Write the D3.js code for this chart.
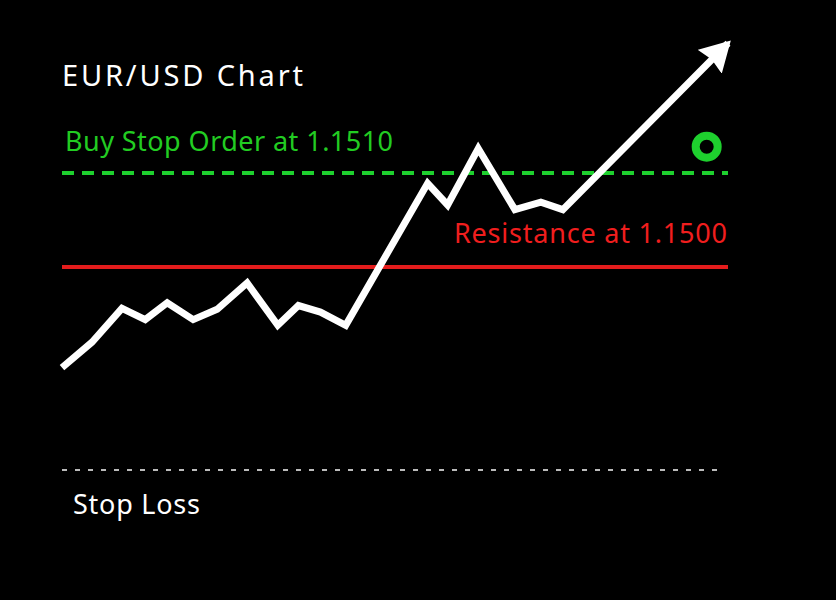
<!DOCTYPE html>
<html>
<head>
<meta charset="utf-8">
<script src="https://cdn.jsdelivr.net/npm/d3@7"></script>
<style>
  html, body { margin: 0; padding: 0; background: #000; }
  svg { display: block; }
  text { font-family: "Noto Sans", "Open Sans", sans-serif; }
</style>
</head>
<body>
<div id="chart"></div>
<script>
// time (hours into session) and EUR/USD price
var hours  = [0, 4.5, 9, 12.5, 15.8, 19.7, 23.3, 27.8, 32.4, 35.5, 38.8, 42.6, 54.9, 57.9, 62.5, 68, 71.9, 75.2, 100];
var prices = [1.14893, 1.14920, 1.14956, 1.14944, 1.14962, 1.14944, 1.14955, 1.14983, 1.14938, 1.14959,
              1.14952, 1.14938, 1.15089, 1.15066, 1.15126, 1.15061, 1.15069, 1.15061, 1.15238];

var levelNames  = ["buyStop", "resistance", "stopLoss"];
var levelValues = [1.1510, 1.1500, 1.14784];
var levelLabels = ["Buy Stop Order at 1.1510", "Resistance at 1.1500", "Stop Loss"];

var entryHour = 96.8, entryPrice = 1.15128;   // green marker

var width = 836, height = 600;

var x = d3.scaleLinear().domain([0, 100]).range([62, 728]);
var y = d3.scaleLinear().domain([1.15, 1.151]).range([267, 173]);

var svg = d3.select("#chart").append("svg")
    .attr("width", width)
    .attr("height", height);

svg.append("rect").attr("width", width).attr("height", height).attr("fill", "#000");

// arrow head
svg.append("defs").append("marker")
    .attr("id", "arrow")
    .attr("viewBox", "0 0 30 34")
    .attr("refX", 26).attr("refY", 17)
    .attr("markerUnits", "userSpaceOnUse")
    .attr("markerWidth", 30).attr("markerHeight", 34)
    .attr("orient", "auto")
  .append("path")
    .attr("d", "M0,0 L30,17 L0,34 L3,17 Z")
    .attr("fill", "#fff");

// title
svg.append("text")
    .attr("x", 62).attr("y", 86)
    .attr("fill", "#fff")
    .attr("font-size", 29)
    .attr("textLength", 241).attr("lengthAdjust", "spacing")
    .text("EUR/USD Chart");

// buy stop level
svg.append("line")
    .attr("x1", x(0)).attr("x2", x(100))
    .attr("y1", y(levelValues[0])).attr("y2", y(levelValues[0]))
    .attr("stroke", "#1ed02e").attr("stroke-width", 4)
    .attr("stroke-dasharray", "12,8");
svg.append("text")
    .attr("x", 65).attr("y", 151)
    .attr("fill", "#22cc22")
    .attr("font-size", 27)
    .attr("textLength", 328).attr("lengthAdjust", "spacing")
    .text(levelLabels[0]);

// resistance level
svg.append("line")
    .attr("x1", x(0)).attr("x2", x(100))
    .attr("y1", y(levelValues[1])).attr("y2", y(levelValues[1]))
    .attr("stroke", "#e41c1c").attr("stroke-width", 4);
svg.append("text")
    .attr("x", 454).attr("y", 243)
    .attr("fill", "#f01e1e")
    .attr("font-size", 27)
    .attr("textLength", 273).attr("lengthAdjust", "spacing")
    .text(levelLabels[1]);

// stop loss level
svg.append("line")
    .attr("x1", x(0)).attr("x2", x(99))
    .attr("y1", y(levelValues[2])).attr("y2", y(levelValues[2]))
    .attr("stroke", "#bbbbbb").attr("stroke-width", 2)
    .attr("stroke-dasharray", "5,8");
svg.append("text")
    .attr("x", 73).attr("y", 514)
    .attr("fill", "#fff")
    .attr("font-size", 27)
    .attr("textLength", 127).attr("lengthAdjust", "spacing")
    .text(levelLabels[2]);

// price line
var line = d3.line()
    .x(function(d, i) { return x(hours[i]); })
    .y(function(d) { return y(d); });

svg.append("path")
    .datum(prices)
    .attr("d", line)
    .attr("fill", "none")
    .attr("stroke", "#fff")
    .attr("stroke-width", 7)
    .attr("stroke-linejoin", "miter")
    .attr("marker-end", "url(#arrow)");

// entry marker
svg.append("circle")
    .attr("cx", x(entryHour)).attr("cy", y(entryPrice))
    .attr("r", 11)
    .attr("fill", "none")
    .attr("stroke", "#1ed02e")
    .attr("stroke-width", 8);
</script>
</body>
</html>
